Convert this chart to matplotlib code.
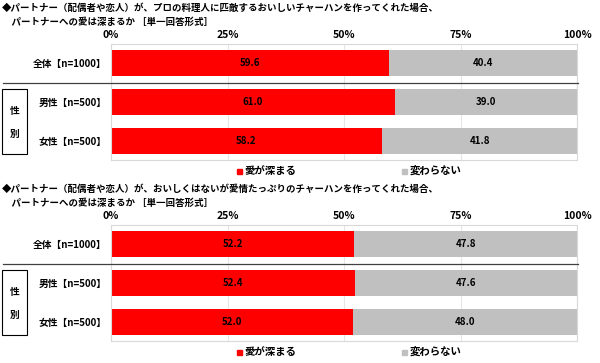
import matplotlib
matplotlib.use('Agg')
import matplotlib.pyplot as plt
from matplotlib.patches import Rectangle
from matplotlib.lines import Line2D

plt.rcParams['font.family'] = ['Noto Sans CJK JP', 'DejaVu Sans']

# data
categories = ['全体【n=1000】', '男性【n=500】', '女性【n=500】']
series_names = ['愛が深まる', '変わらない']
q1_deepen = [59.6, 61.0, 58.2]
q1_same = [40.4, 39.0, 41.8]
q2_deepen = [52.2, 52.4, 52.0]
q2_same = [47.8, 47.6, 48.0]
tick_vals = [0, 25, 50, 75, 100]
tick_labels = ['0%', '25%', '50%', '75%', '100%']
titles = [
    ['◆パートナー（配偶者や恋人）が、プロの料理人に匹敵するおいしいチャーハンを作ってくれた場合、',
     '　パートナーへの愛は深まるか ［単一回答形式］'],
    ['◆パートナー（配偶者や恋人）が、おいしくはないが愛情たっぷりのチャーハンを作ってくれた場合、',
     '　パートナーへの愛は深まるか ［単一回答形式］'],
]

RED = '#FF0000'
GRAY = '#C0C0C0'
W, H = 600, 363

fig = plt.figure(figsize=(6.0, 3.63), dpi=100)
fig.patch.set_facecolor('white')


def fx(px):
    return px / W


def fy(py):
    return 1 - py / H


def panel(top, deepen, same, title):
    bottom = top + 116
    ax = fig.add_axes([fx(111), fy(bottom), fx(577 - 111), (bottom - top) / H])
    y = list(range(len(categories)))
    ax.barh(y, deepen, height=0.67, color=RED, zorder=2)
    ax.barh(y, same, left=deepen, height=0.67, color=GRAY, zorder=2)
    for i in y:
        ax.text(deepen[i] / 2, i, f'{deepen[i]:.1f}', ha='center', va='center',
                fontsize=7, fontweight='bold', color='black', zorder=3)
        ax.text(deepen[i] + same[i] / 2, i, f'{same[i]:.1f}', ha='center', va='center',
                fontsize=7, fontweight='bold', color='black', zorder=3)
    ax.set_xlim(0, 100)
    ax.set_ylim(len(categories) - 0.5, -0.5)
    ax.set_xticks(tick_vals)
    ax.set_xticklabels(tick_labels, fontsize=7.5, fontweight='bold')
    ax.xaxis.tick_top()
    ax.tick_params(axis='x', length=0, pad=3)
    ax.set_yticks(y)
    ax.set_yticklabels(categories, fontsize=7, fontweight='bold')
    ax.tick_params(axis='y', length=0, pad=3)
    ax.grid(axis='x', color='#E6E6E6', linewidth=0.8, zorder=0)
    for s in ax.spines.values():
        s.set_color('#D9D9D9')
        s.set_linewidth(0.8)

    # titles
    fig.text(fx(2), fy(top - 36), title[0], fontsize=6.8, fontweight='bold', va='center', ha='left')
    fig.text(fx(2), fy(top - 22), title[1], fontsize=6.8, fontweight='bold', va='center', ha='left')

    # separator between total and gender rows
    sep = top + 38.5
    fig.add_artist(Line2D([fx(3), fx(578)], [fy(sep), fy(sep)], color='#404040', linewidth=0.9))
    # gender group box
    box = Rectangle((fx(2), fy(top + 110)), fx(25), (110 - 45) / H, transform=fig.transFigure,
                    fill=False, edgecolor='black', linewidth=0.8)
    fig.add_artist(box)
    fig.text(fx(14.5), fy(top + 67), '性', fontsize=7, fontweight='bold', ha='center', va='center')
    fig.text(fx(14.5), fy(top + 90), '別', fontsize=7, fontweight='bold', ha='center', va='center')

    # legend
    ly = bottom + 11
    for px, color, name in [(239, RED, series_names[0]), (405, GRAY, series_names[1])]:
        fig.add_artist(Rectangle((fx(px - 2.5), fy(ly + 2.5)), fx(5), 5 / H,
                                 transform=fig.transFigure, color=color))
        fig.text(fx(px + 5), fy(ly), name, fontsize=7.5, fontweight='bold', ha='left', va='center')


panel(44, q1_deepen, q1_same, titles[0])
panel(225, q2_deepen, q2_same, titles[1])

fig.savefig('out.png', dpi=100, facecolor='white')
